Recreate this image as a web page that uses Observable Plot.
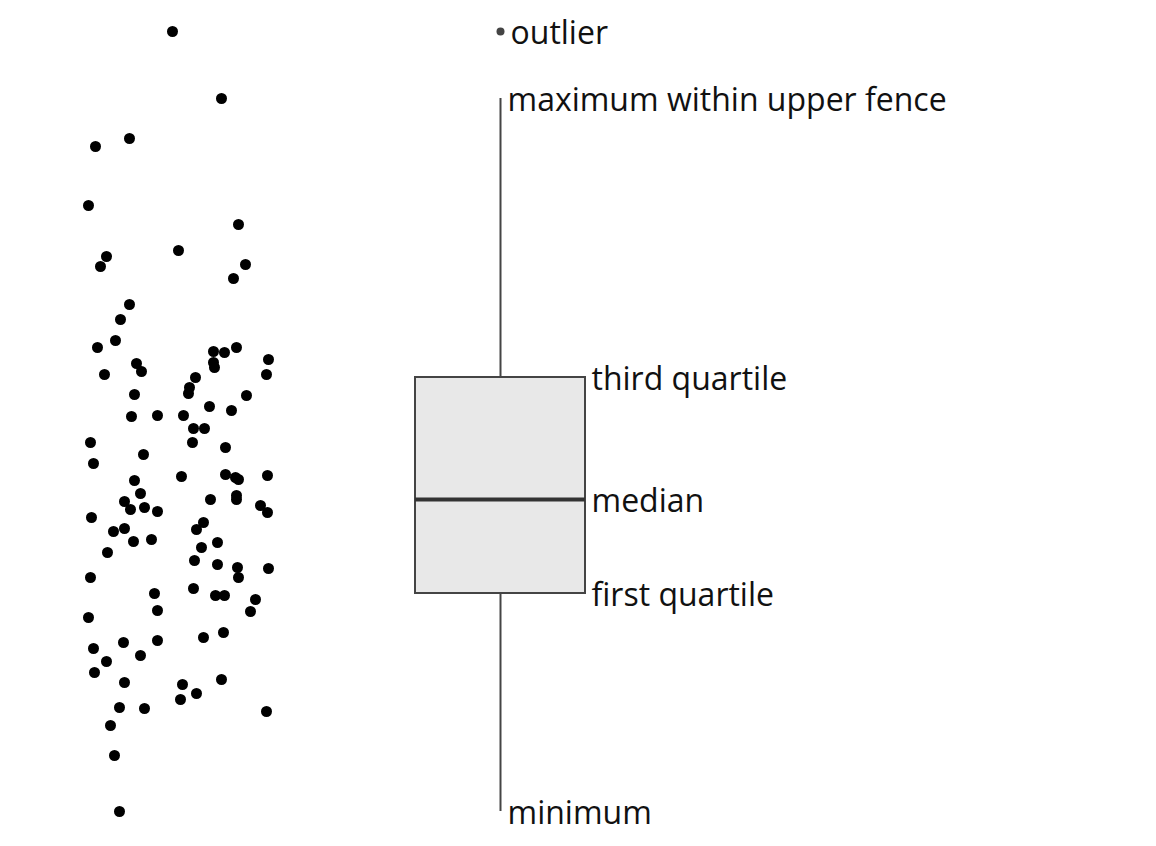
<!DOCTYPE html>
<html><head><meta charset="utf-8">
<script src="https://cdn.jsdelivr.net/npm/d3@7"></script>
<script src="https://cdn.jsdelivr.net/npm/@observablehq/plot@0.6"></script>
<style>body{margin:0;background:#fff;}</style>
</head><body><div id="chart"></div>
<script>
// Jittered horizontal position of each observation (arbitrary units)
const jitterX = [17.2,22.1,12.9,9.5,8.8,23.8,17.8,10.6,10.0,24.5,23.3,12.9,12.0,11.5,9.7,13.6,14.1,10.4,21.3,22.4,23.6,21.3,21.4,26.8,26.6,19.5,18.9,18.8,13.4,24.6,20.9,23.1,13.1,15.7,18.3,19.3,20.4,9.0,19.2,22.5,14.3,9.3,13.4,18.1,22.5,23.5,23.8,26.7,14.0,21.0,23.6,23.6,12.4,13.0,14.4,15.7,26.0,26.7,9.1,20.3,19.6,12.4,11.3,13.3,15.1,21.7,20.1,10.7,19.4,21.7,23.7,23.8,26.8,9.0,15.4,19.3,21.5,22.4,25.5,15.7,25.0,8.8,9.3,12.3,15.7,20.3,22.3,10.6,14.0,9.4,12.4,18.2,22.1,18.0,19.6,11.9,14.4,26.6,11.0,11.4,11.9];
// Observed values
const values = [81.5,74.8,70.8,70.0,64.1,62.2,59.6,59.0,58.0,58.2,56.8,54.2,52.7,50.6,49.9,48.3,47.5,47.2,49.5,49.4,49.9,48.4,47.9,48.7,47.2,46.9,45.9,45.3,45.2,45.1,44.0,43.6,43.0,43.1,43.1,41.8,41.8,40.4,40.4,39.9,39.2,38.3,36.6,37.0,37.2,36.9,36.7,37.1,35.3,34.7,35.1,34.7,34.5,33.7,33.9,33.5,34.1,33.4,32.9,32.4,31.7,31.8,31.5,30.5,30.7,30.4,29.9,29.4,28.6,28.2,27.9,26.9,27.8,26.9,25.3,25.8,25.1,25.1,24.7,23.6,23.5,22.9,19.8,20.4,20.6,20.9,21.4,18.5,19.1,17.4,16.4,16.2,16.7,14.7,15.3,13.9,13.8,13.5,12.1,9.1,3.5];
// Annotation texts
const labelTexts = ["outlier","maximum within upper fence","third quartile","median","first quartile","minimum"];

const boxCenter = 50, boxHalf = 8.5;

const points = jitterX.map((x, i) => ({x, y: values[i]}));
const sorted = values.slice().sort(d3.ascending);
const q1 = d3.quantile(sorted, 0.25), med = d3.quantile(sorted, 0.5), q3 = d3.quantile(sorted, 0.75);
const iqr = q3 - q1;
const hiFence = q3 + 1.5 * iqr, loFence = q1 - 1.5 * iqr;
const maxIn = d3.max(values.filter(v => v <= hiFence));
const minIn = d3.min(values.filter(v => v >= loFence));
const outliers = values.filter(v => v > hiFence || v < loFence);

const whiskers = [{y1: q3, y2: maxIn}, {y1: minIn, y2: q1}];
const box = [{x1: boxCenter - boxHalf, x2: boxCenter + boxHalf, y1: q1, y2: q3}];

const outlierLabels = outliers.map(v => ({text: labelTexts[0], x: boxCenter, y: v}));
const whiskerLabels = [
  {text: labelTexts[1], x: boxCenter, y: maxIn},
  {text: labelTexts[5], x: boxCenter, y: minIn}
];
const boxLabels = [
  {text: labelTexts[2], x: boxCenter + boxHalf, y: q3},
  {text: labelTexts[3], x: boxCenter + boxHalf, y: med},
  {text: labelTexts[4], x: boxCenter + boxHalf, y: q1}
];
const textStyle = {x: "x", y: "y", text: "text", dy: 2, textAnchor: "start", lineAnchor: "middle", fontSize: 32, fontFamily: "Open Sans", fill: "#111"};

const chart = Plot.plot({
  width: 1156,
  height: 846,
  marginTop: 0, marginBottom: 0, marginLeft: 0, marginRight: 0,
  x: {domain: [0, 115.6], axis: null},
  y: {domain: [0, 84.6], axis: null},
  style: {background: "#fff"},
  marks: [
    Plot.dot(points, {x: "x", y: "y", r: 5.5, fill: "#000", stroke: "none"}),
    Plot.ruleX(whiskers, {x: boxCenter, y1: "y1", y2: "y2", stroke: "#444", strokeWidth: 2}),
    Plot.rect(box, {x1: "x1", x2: "x2", y1: "y1", y2: "y2", fill: "#e8e8e8", stroke: "#444", strokeWidth: 2}),
    Plot.ruleY([med], {x1: boxCenter - boxHalf, x2: boxCenter + boxHalf, y: d => d, stroke: "#333", strokeWidth: 4}),
    Plot.dot(outliers, {x: boxCenter, y: d => d, r: 4, fill: "#444", stroke: "none"}),
    Plot.text(outlierLabels, {...textStyle, dx: 10}),
    Plot.text(whiskerLabels, {...textStyle, dx: 7}),
    Plot.text(boxLabels, {...textStyle, dx: 6})
  ]
});
document.getElementById("chart").appendChild(chart);
</script>
</body></html>
